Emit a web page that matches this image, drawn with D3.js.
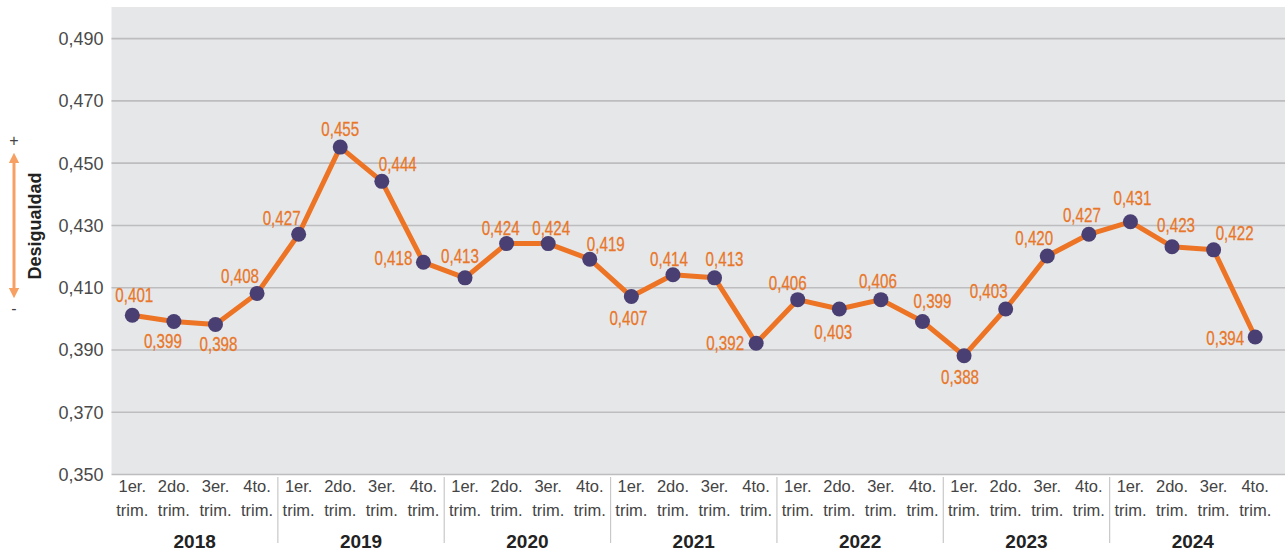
<!DOCTYPE html>
<html>
<head>
<meta charset="utf-8">
<script src="https://cdn.jsdelivr.net/npm/d3@7"></script>
<style>
  body { margin: 0; background: #fff; }
  svg { display: block; }
</style>
</head>
<body>
<div id="chart"></div>
<script>
// datos del gráfico
const years = ["2018", "2019", "2020", "2021", "2022", "2023", "2024"];
const quarters = ["1er.", "2do.", "3er.", "4to."];
const values = [
    0.401, 0.399, 0.398, 0.408,
    0.427, 0.455, 0.444, 0.418,
    0.413, 0.424, 0.424, 0.419,
    0.407, 0.414, 0.413, 0.392,
    0.406, 0.403, 0.406, 0.399,
    0.388, 0.403, 0.420, 0.427,
    0.431, 0.423, 0.422, 0.394
];
const yTicks = [0.35, 0.37, 0.39, 0.41, 0.43, 0.45, 0.47, 0.49];

// label placement: [dx, dy] from the point (text centre, baseline)
const labelOffsets = [
    [2, -13], [-11, 27], [3, 26], [-17, -10],
    [-17, -9], [0, -11], [16, -10], [-30, 3],
    [-5, -15], [-6, -9], [3, -9], [16, -8],
    [-3, 28], [-4, -9], [10, -12], [-31, 7],
    [-10, -10], [-6, 30], [-3, -12], [10, -13],
    [-4, 28], [-17, -11], [-13, -11], [-7, -12],
    [2, -17], [4, -15], [21, -10], [-30, 8]
];

const width = 1285, height = 554;
const plot = { left: 111.5, right: 1276, top: 7, bottom: 474 };
const sans = "'Liberation Sans', Arial, sans-serif";

const svg = d3.select("#chart").append("svg")
    .attr("width", width)
    .attr("height", height);

const cats = [];
years.forEach(y => quarters.forEach(q => cats.push(y + "-" + q)));

const x = d3.scaleBand().domain(cats).range([plot.left, plot.right]);
const y = d3.scaleLinear().domain([0.35, 0.5]).range([plot.bottom, plot.top]);

// fondo
svg.append("rect")
    .attr("x", plot.left).attr("y", plot.top)
    .attr("width", width - plot.left).attr("height", plot.bottom - plot.top)
    .attr("fill", "#e6e7e9");

const fmt = v => d3.format(".3f")(v).replace(".", ",");

// eje y con líneas de grilla
const yAxis = svg.append("g")
    .attr("transform", `translate(${plot.left},0)`)
    .call(d3.axisLeft(y).tickValues(yTicks).tickFormat(fmt).tickSize(-(width - plot.left)).tickPadding(8));
yAxis.select(".domain").remove();
yAxis.selectAll(".tick line").attr("stroke", "#bdbdbf").attr("stroke-width", 1.6);
yAxis.selectAll(".tick text")
    .attr("fill", "#4a4a4a")
    .attr("dy", "0.36em")
    .style("font-family", sans)
    .style("font-size", "18px");

// eje x: trimestres
const xg = svg.append("g").attr("transform", `translate(0,${plot.bottom})`);
cats.forEach((c, i) => {
    const cx = x(c) + x.bandwidth() / 2;
    const t = xg.append("text")
        .attr("x", cx).attr("text-anchor", "middle")
        .attr("fill", "#444")
        .style("font-family", sans)
        .style("font-size", "16.5px");
    t.append("tspan").attr("x", cx).attr("y", 18).text(quarters[i % 4]);
    t.append("tspan").attr("x", cx).attr("y", 42).text("trim.");
});

// años
years.forEach((yr, j) => {
    const x0 = x(yr + "-" + quarters[0]);
    const x1 = x(yr + "-" + quarters[3]) + x.bandwidth();
    xg.append("text")
        .attr("x", (x0 + x1) / 2).attr("y", 74)
        .attr("text-anchor", "middle")
        .attr("fill", "#222")
        .style("font-family", sans)
        .style("font-weight", "bold")
        .style("font-size", "19px")
        .text(yr);
    if (j > 0) {
        xg.append("line")
            .attr("x1", x0).attr("x2", x0)
            .attr("y1", 3).attr("y2", 69)
            .attr("stroke", "#c8c8c8").attr("stroke-width", 1.2);
    }
});

// línea
const pts = values.map((v, i) => ({ v, cx: x(cats[i]) + x.bandwidth() / 2, cy: y(v), off: labelOffsets[i] }));

svg.append("path")
    .datum(pts)
    .attr("fill", "none")
    .attr("stroke", "#ec7424")
    .attr("stroke-width", 5)
    .attr("stroke-linejoin", "round")
    .attr("d", d3.line().x(d => d.cx).y(d => d.cy));

svg.selectAll("circle.pt")
    .data(pts)
    .join("circle")
    .attr("class", "pt")
    .attr("cx", d => d.cx).attr("cy", d => d.cy)
    .attr("r", 7.5)
    .attr("fill", "#4a3f72");

// etiquetas en letra condensada (escala horizontal)
svg.selectAll("text.lbl")
    .data(pts)
    .join("text")
    .attr("class", "lbl")
    .attr("transform", d => `translate(${d.cx + d.off[0]},${d.cy + d.off[1]}) scale(0.74,1)`)
    .attr("text-anchor", "middle")
    .attr("fill", "#e8772a")
    .attr("stroke", "#e8772a")
    .attr("stroke-width", 0.3)
    .style("font-family", sans)
    .style("font-size", "20.5px")
    .text(d => fmt(d.v));

// indicador de desigualdad
const defs = svg.append("defs");
defs.append("marker")
    .attr("id", "ah")
    .attr("viewBox", "0 0 10 10")
    .attr("refX", 5).attr("refY", 5)
    .attr("markerWidth", 3.5).attr("markerHeight", 3.5)
    .attr("orient", "auto-start-reverse")
    .append("path")
    .attr("d", "M0,0 L10,5 L0,10 z")
    .attr("fill", "#f7a064");

svg.append("line")
    .attr("x1", 14).attr("x2", 14)
    .attr("y1", 158).attr("y2", 293)
    .attr("stroke", "#f7a064").attr("stroke-width", 3)
    .attr("marker-start", "url(#ah)")
    .attr("marker-end", "url(#ah)");

svg.append("text")
    .attr("x", 14).attr("y", 146)
    .attr("text-anchor", "middle")
    .attr("fill", "#444")
    .style("font-family", sans)
    .style("font-size", "16px")
    .text("+");
svg.append("text")
    .attr("x", 14).attr("y", 314)
    .attr("text-anchor", "middle")
    .attr("fill", "#444")
    .style("font-family", sans)
    .style("font-size", "16px")
    .text("-");

svg.append("text")
    .attr("transform", "translate(41,226) rotate(-90)")
    .attr("text-anchor", "middle")
    .attr("fill", "#222")
    .style("font-family", sans)
    .style("font-weight", "bold")
    .style("font-size", "18px")
    .text("Desigualdad");
</script>
</body>
</html>
